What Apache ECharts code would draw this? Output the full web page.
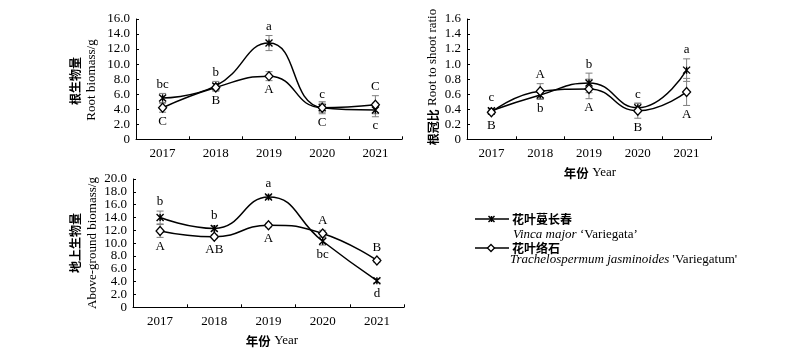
<!DOCTYPE html>
<html><head><meta charset="utf-8">
<script src="https://cdn.jsdelivr.net/npm/echarts@6/dist/echarts.min.js"></script>
<style>html,body{margin:0;padding:0;background:#fff}#c{width:800px;height:357px}</style>
</head><body><div id="c"></div><script>
// ---- data ----
const years = ['2017', '2018', '2019', '2020', '2021'];

const rootVinca = [5.5, 7.1, 12.8, 4.2, 3.9];
const rootVincaErr = [0.6, 0.6, 1.0, 0.6, 0.9];
const rootVincaLetters = ['bc', 'b', 'a', 'c', 'c'];
const rootVincaSide = [1, 1, 1, 1, -1];
const rootTrach = [4.2, 6.9, 8.4, 4.2, 4.6];
const rootTrachErr = [0.6, 0.5, 0.6, 0.8, 1.2];
const rootTrachLetters = ['C', 'B', 'A', 'C', 'C'];
const rootTrachSide = [-1, -1, -1, -1, 1];

const rsrVinca = [0.38, 0.59, 0.75, 0.42, 0.92];
const rsrVincaErr = [0.03, 0.06, 0.13, 0.06, 0.15];
const rsrVincaLetters = ['c', 'b', 'b', 'c', 'a'];
const rsrVincaSide = [1, -1, 1, 1, 1];
const rsrTrach = [0.36, 0.64, 0.67, 0.38, 0.63];
const rsrTrachErr = [0.03, 0.10, 0.13, 0.10, 0.18];
const rsrTrachLetters = ['B', 'A', 'A', 'B', 'A'];
const rsrTrachSide = [-1, 1, -1, -1, -1];

const agVinca = [14.0, 12.3, 17.2, 10.3, 4.15];
const agVincaErr = [1.0, 0.4, 0.3, 0.6, 0.3];
const agVincaLetters = ['b', 'b', 'a', 'bc', 'd'];
const agVincaSide = [1, 1, 1, -1, -1];
const agTrach = [11.9, 11.0, 12.8, 11.5, 7.3];
const agTrachErr = [1.0, 0.3, 0.3, 0.5, 0.3];
const agTrachLetters = ['A', 'AB', 'A', 'A', 'B'];
const agTrachSide = [-1, -1, -1, 1, 1];

const nameVinca = '花叶蔓长春';
const nameTrach = '花叶络石';

// ---- styling ----
const SERIF = '"Liberation Serif", "Times New Roman", serif';
const CJK = '"Noto Sans CJK SC", sans-serif';
const STAR = 'path://M0,0L10,10M10,0L0,10M5,0L5,10';

function errSeries(gi, vals, errs) {
  return {
    type: 'custom', xAxisIndex: gi, yAxisIndex: gi, z: 1, silent: true,
    data: vals.map((v, i) => [i, v - errs[i], v + errs[i]]),
    renderItem(params, api) {
      const x = api.value(0);
      const p1 = api.coord([x, api.value(1)]);
      const p2 = api.coord([x, api.value(2)]);
      const w = 3.5, st = { stroke: '#7f7f7f', lineWidth: 1 };
      return { type: 'group', children: [
        { type: 'line', shape: { x1: p1[0], y1: p1[1], x2: p2[0], y2: p2[1] }, style: st },
        { type: 'line', shape: { x1: p1[0] - w, y1: p1[1], x2: p1[0] + w, y2: p1[1] }, style: st },
        { type: 'line', shape: { x1: p2[0] - w, y1: p2[1], x2: p2[0] + w, y2: p2[1] }, style: st }
      ] };
    }
  };
}

function letterSeries(gi, vals, errs, letters, sides) {
  return {
    type: 'custom', xAxisIndex: gi, yAxisIndex: gi, z: 6, silent: true,
    data: vals.map((v, i) => [i, v, errs[i], sides[i]]),
    renderItem(params, api) {
      const i = api.value(0), v = api.value(1), e = api.value(2), d = api.value(3);
      const p = api.coord([i, v]);
      const pe = api.coord([i, v + d * e]);
      const off = Math.max(13, Math.abs(pe[1] - p[1]) + 9);
      return { type: 'text', x: p[0], y: p[1] - d * off,
        style: { text: letters[params.dataIndex], fontFamily: SERIF, fontSize: 13,
          fill: '#000', align: 'center', verticalAlign: 'middle' } };
    }
  };
}

function lineSeries(gi, name, vals, isStar) {
  return {
    type: 'line', name: name, xAxisIndex: gi, yAxisIndex: gi, z: 3,
    data: vals, smooth: 0.5,
    symbol: isStar ? STAR : 'diamond',
    symbolSize: isStar ? 7 : [8, 9],
    lineStyle: { color: '#000', width: 1.5 },
    itemStyle: isStar ? { color: '#000', borderColor: '#000', borderWidth: 1.4 }
                      : { color: '#fff', borderColor: '#000', borderWidth: 1.3 },
    showAllSymbol: true, animation: false
  };
}

function xAx(gi) {
  return {
    type: 'category', gridIndex: gi, data: years, boundaryGap: true,
    axisLine: { lineStyle: { color: '#000', width: 1 } },
    axisTick: { show: true, inside: true, length: 3, lineStyle: { color: '#000' } },
    axisLabel: { color: '#000', fontFamily: SERIF, fontSize: 13, margin: 8 }
  };
}
function yAx(gi, max, interval, dec) {
  return {
    type: 'value', gridIndex: gi, min: 0, max: max, interval: interval,
    splitLine: { show: false },
    axisLine: { show: true, lineStyle: { color: '#000', width: 1 } },
    axisTick: { show: true, inside: true, length: 3, lineStyle: { color: '#000' } },
    axisLabel: { color: '#000', fontFamily: SERIF, fontSize: 13, margin: 6,
      formatter: v => (v === 0 ? '0' : v.toFixed(dec)) }
  };
}

function vText(x, y, text, font, size, weight) {
  return { type: 'text', x: x, y: y, rotation: Math.PI / 2,
    style: { text: text, fontFamily: font, fontSize: size, fontWeight: weight || 'normal',
      fill: '#000', align: 'center', verticalAlign: 'middle' } };
}
function yearTitle(x, y) {
  return { type: 'text', x: x, y: y,
    style: { text: '{c|年份} {e|Year}', align: 'center', verticalAlign: 'middle',
      rich: { c: { fontFamily: CJK, fontSize: 12.5, fontWeight: 'bold', fill: '#000' },
              e: { fontFamily: SERIF, fontSize: 13, fill: '#000' } } } };
}
function seg(x1, y1, x2, y2, w) {
  return { type: 'line', shape: { x1: x1, y1: y1, x2: x2, y2: y2 }, style: { stroke: '#000', lineWidth: w } };
}

const chart = echarts.init(document.getElementById('c'), null, { renderer: 'canvas' });
chart.setOption({
  animation: false,
  backgroundColor: '#fff',
  grid: [
    { left: 136, top: 19, width: 266, height: 120.3 },
    { left: 467, top: 19, width: 244, height: 120.3 },
    { left: 133, top: 179, width: 271, height: 128.3 }
  ],
  xAxis: [xAx(0), xAx(1), xAx(2)],
  yAxis: [yAx(0, 16, 2, 1), yAx(1, 1.6, 0.2, 1), yAx(2, 20, 2, 1)],
  series: [
    errSeries(0, rootVinca, rootVincaErr), errSeries(0, rootTrach, rootTrachErr),
    lineSeries(0, nameVinca, rootVinca, true), lineSeries(0, nameTrach, rootTrach, false),
    letterSeries(0, rootVinca, rootVincaErr, rootVincaLetters, rootVincaSide),
    letterSeries(0, rootTrach, rootTrachErr, rootTrachLetters, rootTrachSide),

    errSeries(1, rsrVinca, rsrVincaErr), errSeries(1, rsrTrach, rsrTrachErr),
    lineSeries(1, nameVinca, rsrVinca, true), lineSeries(1, nameTrach, rsrTrach, false),
    letterSeries(1, rsrVinca, rsrVincaErr, rsrVincaLetters, rsrVincaSide),
    letterSeries(1, rsrTrach, rsrTrachErr, rsrTrachLetters, rsrTrachSide),

    errSeries(2, agVinca, agVincaErr), errSeries(2, agTrach, agTrachErr),
    lineSeries(2, nameVinca, agVinca, true), lineSeries(2, nameTrach, agTrach, false),
    letterSeries(2, agVinca, agVincaErr, agVincaLetters, agVincaSide),
    letterSeries(2, agTrach, agTrachErr, agTrachLetters, agTrachSide)
  ],
  graphic: [
    vText(75, 81, '根生物量', CJK, 12, 'bold'),
    vText(92, 80, 'Root biomass/g', SERIF, 13),
    vText(75, 243, '地上生物量', CJK, 12, 'bold'),
    vText(93, 243, 'Above-ground biomass/g', SERIF, 13),
    { type: 'text', x: 433, y: 77, rotation: Math.PI / 2,
      style: { text: '{c|根冠比} {e|Root to shoot ratio}', align: 'center', verticalAlign: 'middle',
        rich: { c: { fontFamily: CJK, fontSize: 12, fontWeight: 'bold', fill: '#000' },
                e: { fontFamily: SERIF, fontSize: 13, fill: '#000' } } } },
    yearTitle(590, 173),
    yearTitle(272, 341),
    // legend
    seg(475, 219, 509, 219, 1.3),
    seg(488.5, 216, 494.5, 222, 1.5),
    seg(494.5, 216, 488.5, 222, 1.5),
    seg(491.5, 216, 491.5, 222, 1.5),
    { type: 'text', x: 512, y: 219, style: { text: nameVinca, fontFamily: CJK, fontSize: 12, fontWeight: 'bold',
      fill: '#000', align: 'left', verticalAlign: 'middle' } },
    { type: 'text', x: 513, y: 235, style: { text: '{i|Vinca major} {n|‘Variegata’}', align: 'left', verticalAlign: 'middle',
      rich: { i: { fontFamily: SERIF, fontSize: 13, fontStyle: 'italic', fill: '#000' },
              n: { fontFamily: SERIF, fontSize: 13, fill: '#000' } } } },
    seg(475, 248, 509, 248, 1.3),
    { type: 'polygon', shape: { points: [[491, 244.5], [494.5, 248], [491, 251.5], [487.5, 248]] },
      style: { stroke: '#000', lineWidth: 1.3, fill: '#fff' } },
    { type: 'text', x: 512, y: 248, style: { text: nameTrach, fontFamily: CJK, fontSize: 12, fontWeight: 'bold',
      fill: '#000', align: 'left', verticalAlign: 'middle' } },
    { type: 'text', x: 510, y: 260, style: { text: '{i|Trachelospermum jasminoides} {n|\'Variegatum\'}', align: 'left', verticalAlign: 'middle',
      rich: { i: { fontFamily: SERIF, fontSize: 13, fontStyle: 'italic', fill: '#000' },
              n: { fontFamily: SERIF, fontSize: 13, fill: '#000' } } } }
  ]
});
</script></body></html>
